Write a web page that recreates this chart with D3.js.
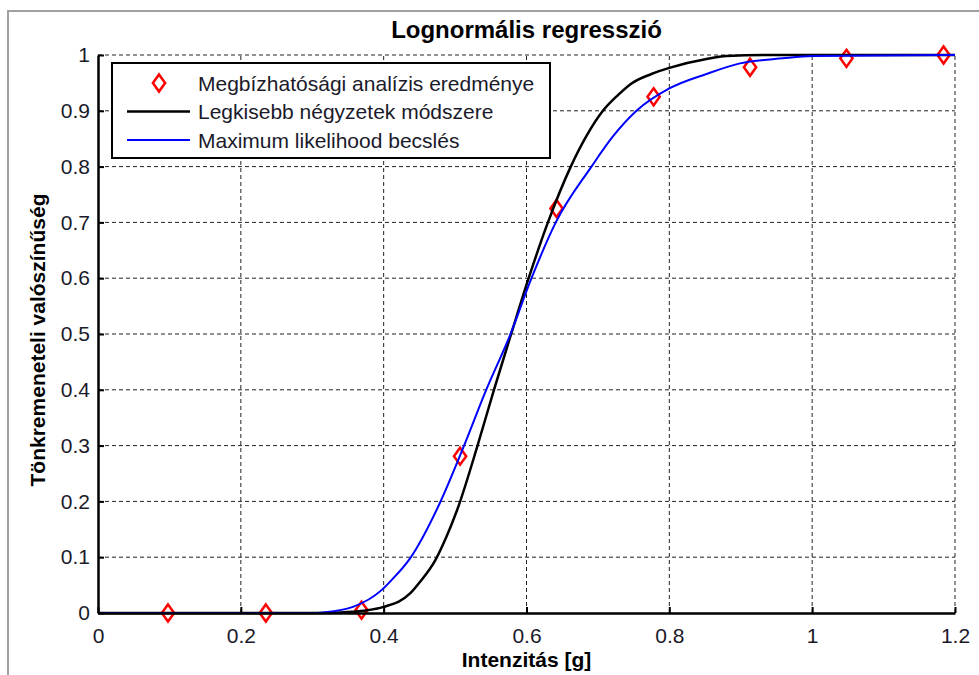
<!DOCTYPE html>
<html>
<head>
<meta charset="utf-8">
<script src="https://cdn.jsdelivr.net/npm/d3@7"></script>
<style>
  body { margin: 0; background: #fff; }
  svg { display: block; font-family: "Liberation Sans", Arial, sans-serif; }
</style>
</head>
<body>
<svg id="chart" width="979" height="675"></svg>
<script>
// measured reliability points
let pointX = [0.098, 0.235, 0.369, 0.507, 0.642, 0.778, 0.913, 1.048, 1.184]
let pointP = [0, 0, 0.005, 0.281, 0.725, 0.925, 0.978, 0.994, 1.0]

// least squares fit
let lsqX = [0, 0.30, 0.34, 0.371, 0.40, 0.437, 0.451, 0.472, 0.487, 0.503, 0.531, 0.554, 0.578, 0.603, 0.630, 0.662, 0.684, 0.707, 0.728, 0.747, 0.775, 0.80, 0.852, 0.880, 0.95, 1.2]
let lsqP = [0, 0, 0.001, 0.004, 0.011, 0.035, 0.056, 0.094, 0.134, 0.185, 0.298, 0.398, 0.498, 0.60, 0.70, 0.80, 0.855, 0.90, 0.928, 0.949, 0.966, 0.977, 0.993, 0.998, 1.0, 1.0]

// maximum likelihood fit
let mleX = [0, 0.30, 0.315, 0.357, 0.397, 0.411, 0.437, 0.479, 0.512, 0.543, 0.577, 0.607, 0.641, 0.691, 0.721, 0.754, 0.80, 0.852, 0.899, 0.959, 1.0, 1.2]
let mleP = [0, 0, 0.001, 0.011, 0.041, 0.059, 0.098, 0.198, 0.298, 0.398, 0.498, 0.60, 0.70, 0.80, 0.854, 0.90, 0.940, 0.966, 0.985, 0.994, 0.998, 1.0]

let xTicks = [0, 0.2, 0.4, 0.6, 0.8, 1, 1.2]
let yTicks = [0, 0.1, 0.2, 0.3, 0.4, 0.5, 0.6, 0.7, 0.8, 0.9, 1]

let legendNames = ["Megbízhatósági analízis eredménye", "Legkisebb négyzetek módszere", "Maximum likelihood becslés"]

let x = d3.scaleLinear().domain([0, 1.2]).range([98, 955])
let y = d3.scaleLinear().domain([0, 1]).range([613, 55])

let svg = d3.select("#chart")

// outer figure frame
svg.append("path")
    .attr("d", "M8,675V11H979")
    .attr("fill", "none")
    .attr("stroke", "#a0a0a0")
    .attr("stroke-width", 2)

// diamond marker
let diamond = {
    draw(ctx, size) {
        let h = Math.sqrt(size) / 2
        let w = h * 0.72
        ctx.moveTo(0, -h)
        ctx.lineTo(w, 0)
        ctx.lineTo(0, h)
        ctx.lineTo(-w, 0)
        ctx.closePath()
    }
}
let marker = d3.symbol().type(diamond).size(290)

// grid
let grid = svg.append("g")
    .attr("stroke", "#222")
    .attr("stroke-width", 1)
    .attr("stroke-dasharray", "4,3")

grid.selectAll(".vx")
    .data(xTicks.slice(1))
    .join("line")
    .attr("x1", d => x(d)).attr("x2", d => x(d))
    .attr("y1", y(0)).attr("y2", y(1))

grid.selectAll(".hy")
    .data(yTicks.slice(1))
    .join("line")
    .attr("x1", x(0)).attr("x2", x(1.2))
    .attr("y1", d => y(d)).attr("y2", d => y(d))

// data
svg.append("g")
    .selectAll("path")
    .data(pointX)
    .join("path")
    .attr("transform", (d, i) => `translate(${x(d)},${y(pointP[i])})`)
    .attr("d", marker)
    .attr("fill", "none")
    .attr("stroke", "#ff0000")
    .attr("stroke-width", 2.5)

let line = d3.line()
    .x(d => x(d[0]))
    .y(d => y(d[1]))
    .curve(d3.curveMonotoneX)

svg.append("path")
    .attr("d", line(d3.zip(lsqX, lsqP)))
    .attr("fill", "none")
    .attr("stroke", "#000")
    .attr("stroke-width", 2.5)

svg.append("path")
    .attr("d", line(d3.zip(mleX, mleP)))
    .attr("fill", "none")
    .attr("stroke", "#0000ff")
    .attr("stroke-width", 2)

// axes
let axisB = d3.axisBottom(x)
    .tickValues(xTicks)
    .tickFormat(d3.format("~g"))
    .tickSizeInner(-6)
    .tickSizeOuter(0)
    .tickPadding(15)

let axisL = d3.axisLeft(y)
    .tickValues(yTicks)
    .tickFormat(d3.format("~g"))
    .tickSizeInner(-6)
    .tickSizeOuter(0)
    .tickPadding(8)

let gx = svg.append("g")
    .attr("transform", `translate(0,${y(0)})`)
    .call(axisB)

let gy = svg.append("g")
    .attr("transform", `translate(${x(0)},0)`)
    .call(axisL)

for (let g of [gx, gy]) {
    g.select(".domain").attr("stroke", "#000").attr("stroke-width", 2.5)
    g.selectAll(".tick line").attr("stroke", "#000").attr("stroke-width", 2)
    g.selectAll(".tick text")
        .attr("fill", "#1a1a2a")
        .style("font-size", "21px")
        .style("font-family", "'Liberation Sans', Arial, sans-serif")
}

// titles
svg.append("text")
    .attr("x", (x(0) + x(1.2)) / 2)
    .attr("y", 38)
    .attr("text-anchor", "middle")
    .style("font-size", "24px")
    .style("font-weight", "bold")
    .text("Lognormális regresszió")

svg.append("text")
    .attr("x", (x(0) + x(1.2)) / 2)
    .attr("y", 667)
    .attr("text-anchor", "middle")
    .style("font-size", "21px")
    .style("font-weight", "bold")
    .text("Intenzitás [g]")

svg.append("text")
    .attr("transform", `translate(45,${(y(0) + y(1)) / 2 + 6}) rotate(-90)`)
    .attr("text-anchor", "middle")
    .style("font-size", "21px")
    .style("font-weight", "bold")
    .text("Tönkremeneteli valószínűség")

// legend
let legend = svg.append("g")

legend.append("rect")
    .attr("x", 112)
    .attr("y", 63)
    .attr("width", 438)
    .attr("height", 95)
    .attr("fill", "#fff")
    .attr("stroke", "#000")
    .attr("stroke-width", 2)

let rows = legend.selectAll(".row")
    .data(legendNames)
    .join("g")
    .attr("transform", (d, i) => `translate(0,${83 + i * 28.5})`)

rows.append("text")
    .attr("x", 198)
    .attr("dy", "0.36em")
    .attr("fill", "#1a1a2a")
    .style("font-size", "21px")
    .text(d => d)

rows.filter((d, i) => i === 0)
    .append("path")
    .attr("transform", "translate(159,0)")
    .attr("d", marker)
    .attr("fill", "none")
    .attr("stroke", "#ff0000")
    .attr("stroke-width", 2.5)

rows.filter((d, i) => i > 0)
    .append("line")
    .attr("x1", 127)
    .attr("x2", 190)
    .attr("stroke", (d, i) => i === 0 ? "#000" : "#0000ff")
    .attr("stroke-width", (d, i) => i === 0 ? 2.5 : 2)
</script>
</body>
</html>
